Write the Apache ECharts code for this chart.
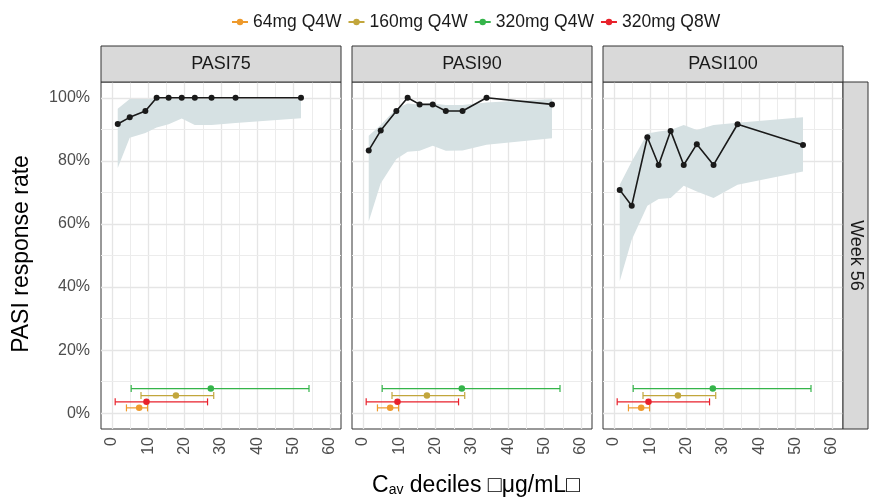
<!DOCTYPE html>
<html>
<head>
<meta charset="utf-8">
<script src="https://cdn.jsdelivr.net/npm/echarts@6/dist/echarts.min.js"></script>
<style>
html,body{margin:0;padding:0;background:#fff;}
#chart{width:869px;height:498px;}
</style>
</head>
<body>
<div id="chart"></div>
<script>
// ---- data ----
const panels = ['PASI75', 'PASI90', 'PASI100'];
const facetRow = 'Week 56';
const caDeciles = [1.6, 4.9, 9.2, 12.3, 15.6, 19.2, 22.8, 27.4, 34.0, 52.0];

const pasi75 = [91.7, 93.8, 95.8, 100, 100, 100, 100, 100, 100, 100];
const pasi75Lo = [77.7, 87.3, 88.8, 90.6, 91.6, 93.4, 91.4, 91.4, 92.0, 93.5];
const pasi75Hi = [96.5, 99.6, 99.6, 99.6, 99.6, 99.6, 99.6, 99.6, 99.6, 99.6];

const pasi90 = [83.3, 89.6, 95.8, 100, 97.9, 97.9, 95.8, 95.8, 100, 97.9];
const pasi90Lo = [60.8, 72.9, 80.6, 82.9, 83.2, 84.8, 83.2, 83.3, 85.1, 87.2];
const pasi90Hi = [88.0, 91.4, 96.6, 98.2, 97.9, 98.2, 97.7, 97.7, 98.5, 99.6];

const pasi100 = [70.8, 65.8, 87.5, 78.7, 89.5, 78.7, 85.3, 78.7, 91.6, 85.0];
const pasi100Lo = [41.8, 55.0, 65.8, 67.9, 68.2, 72.1, 70.3, 68.2, 72.4, 76.6];
const pasi100Hi = [72.4, 79.8, 88.7, 89.3, 89.8, 91.4, 89.8, 91.4, 92.1, 93.8];

const doseGroups = ['64mg Q4W', '160mg Q4W', '320mg Q4W', '320mg Q8W'];
const doseMedian = [7.5, 17.6, 27.2, 9.5];
const doseLow = [4.0, 8.0, 5.3, 0.9];
const doseHigh = [9.8, 28.0, 54.2, 26.3];
const doseRow = [1.7, 5.6, 7.8, 3.6];

const xTicks = [0, 10, 20, 30, 40, 50, 60];
const xMinor = [5, 15, 25, 35, 45, 55];
const yTicks = [0, 20, 40, 60, 80, 100];
const yMinor = [10, 30, 50, 70, 90];

// ---- styling ----
const doseColors = ['#EE9A2C', '#C2A63C', '#35B44A', '#E8212B'];
const bandColor = '#D6E1E3';
const gridMajor = '#E5E5E5';
const gridMinor = '#ECECEC';
const font = 'Liberation Sans, Arial, sans-serif';

const panelVals = [pasi75, pasi90, pasi100];
const panelLo = [pasi75Lo, pasi90Lo, pasi100Lo];
const panelHi = [pasi75Hi, pasi90Hi, pasi100Hi];

const panelLeft = [101, 352, 603];
const panelTop = 82, panelW = 240, panelH = 347;

const grids = [], xAxes = [], yAxes = [], series = [], graphics = [];

panels.forEach((p, i) => {
  grids.push({left: panelLeft[i], top: panelTop, width: panelW, height: panelH,
    show: true, backgroundColor: '#fff', borderColor: '#333333', borderWidth: 1, containLabel: false});
  xAxes.push({type: 'value', gridIndex: i, min: -3, max: 63,
    axisLine: {show: false},
    splitLine: {show: false},
    axisTick: {show: true, customValues: xTicks, length: 4, lineStyle: {color: '#333333', width: 1}},
    axisLabel: {show: true, customValues: xTicks, rotate: 90, margin: 8,
      fontSize: 16, color: '#4D4D4D', fontFamily: font}
  });
  yAxes.push({type: 'value', gridIndex: i, min: -5, max: 105,
    axisLine: {show: false},
    splitLine: {show: false},
    axisTick: {show: i === 0, customValues: yTicks, length: 4, lineStyle: {color: '#333333', width: 1}},
    axisLabel: {show: i === 0, customValues: yTicks, margin: 11,
      formatter: v => v + '%', fontSize: 16, color: '#4D4D4D', fontFamily: font}
  });

  const gridLines = [];
  xTicks.forEach(v => gridLines.push({xAxis: v, lineStyle: {type: 'solid', width: 1.3, color: gridMajor}}));
  xMinor.forEach(v => gridLines.push({xAxis: v, lineStyle: {type: 'solid', width: 1, color: gridMinor}}));
  yTicks.forEach(v => gridLines.push({yAxis: v, lineStyle: {type: 'solid', width: 1.3, color: gridMajor}}));
  yMinor.forEach(v => gridLines.push({yAxis: v, lineStyle: {type: 'solid', width: 1, color: gridMinor}}));

  // prediction band (polygon through the axis scales), carries the grid lines
  series.push({type: 'custom', xAxisIndex: i, yAxisIndex: i, z: 2, silent: true,
    data: caDeciles.map((x, k) => [x, panelLo[i][k], panelHi[i][k]]),
    encode: {x: 0, y: [1, 2]},
    renderItem: (params, api) => {
      if (params.dataIndex !== 0) return null;
      const pts = [];
      caDeciles.forEach((x, k) => pts.push(api.coord([x, panelHi[i][k]])));
      for (let k = caDeciles.length - 1; k >= 0; k--) pts.push(api.coord([caDeciles[k], panelLo[i][k]]));
      return {type: 'polygon', shape: {points: pts}, style: {fill: bandColor, stroke: null}};
    },
    markLine: {silent: true, symbol: 'none', label: {show: false}, animation: false, z: 1, data: gridLines},
    animation: false});
  // observed response
  series.push({type: 'line', xAxisIndex: i, yAxisIndex: i, z: 4,
    data: caDeciles.map((x, k) => [x, panelVals[i][k]]),
    symbol: 'circle', symbolSize: 6, itemStyle: {color: '#1A1A1A'},
    lineStyle: {color: '#1A1A1A', width: 1.6}, animation: false});
  // exposure range whiskers
  series.push({type: 'custom', xAxisIndex: i, yAxisIndex: i, z: 5, silent: true,
    data: doseGroups.map((g, k) => [doseLow[k], doseHigh[k], doseRow[k], k]),
    encode: {x: [0, 1], y: 2},
    renderItem: (params, api) => {
      const a = api.coord([api.value(0), api.value(2)]);
      const b = api.coord([api.value(1), api.value(2)]);
      const c = doseColors[api.value(3)];
      const st = {stroke: c, lineWidth: 1.2};
      return {type: 'group', children: [
        {type: 'line', shape: {x1: a[0], y1: a[1], x2: b[0], y2: b[1]}, style: st},
        {type: 'line', shape: {x1: a[0], y1: a[1] - 3.5, x2: a[0], y2: a[1] + 3.5}, style: st},
        {type: 'line', shape: {x1: b[0], y1: b[1] - 3.5, x2: b[0], y2: b[1] + 3.5}, style: st}
      ]};
    }, animation: false});
  // dose group medians
  doseGroups.forEach((g, k) => {
    series.push({type: 'line', name: g, xAxisIndex: i, yAxisIndex: i, z: 6,
      data: [[doseMedian[k], doseRow[k]]],
      symbol: 'circle', symbolSize: 6.5, itemStyle: {color: doseColors[k]},
      lineStyle: {color: doseColors[k], width: 1.5}, animation: false});
  });

  // strip
  graphics.push({type: 'rect', shape: {x: panelLeft[i], y: 46, width: panelW, height: 36},
    style: {fill: '#D9D9D9', stroke: '#333333', lineWidth: 1}, z: 10});
  graphics.push({type: 'text', x: panelLeft[i] + panelW / 2, y: 64, z: 11,
    style: {text: p, fontSize: 18, fontFamily: font, fill: '#1A1A1A', align: 'center', verticalAlign: 'middle'}});
});

// right strip
graphics.push({type: 'rect', shape: {x: 843, y: panelTop, width: 25, height: panelH},
  style: {fill: '#D9D9D9', stroke: '#333333', lineWidth: 1}, z: 10});
graphics.push({type: 'text', x: 856, y: panelTop + panelH / 2, rotation: -Math.PI / 2, z: 11,
  style: {text: facetRow, fontSize: 18, fontFamily: font, fill: '#1A1A1A', align: 'center', verticalAlign: 'middle'}});

// axis titles
graphics.push({type: 'text', x: 22, y: 254, rotation: Math.PI / 2, z: 11,
  style: {text: 'PASI response rate', fontSize: 23, fontFamily: font, fill: '#000', align: 'center', verticalAlign: 'middle'}});
graphics.push({type: 'text', x: 476, y: 484, z: 11,
  style: {text: '{c|C}{s|av}{c| deciles \u25A1\u03BCg/mL\u25A1}', align: 'center', verticalAlign: 'middle',
    rich: {
      c: {fontSize: 23, fontFamily: font, fill: '#000', lineHeight: 26, verticalAlign: 'bottom'},
      s: {fontSize: 14, fontFamily: font, fill: '#000', lineHeight: 18, verticalAlign: 'bottom'}
    }}});

const chart = echarts.init(document.getElementById('chart'), null, {renderer: 'canvas'});
chart.setOption({
  animation: false,
  backgroundColor: '#fff',
  legend: {data: doseGroups, top: 8, left: 226, selectedMode: false,
    itemWidth: 16, itemHeight: 8, itemGap: 6,
    textStyle: {fontSize: 17.5, fontFamily: font, color: '#1A1A1A'}},
  grid: grids, xAxis: xAxes, yAxis: yAxes, series: series, graphic: graphics
});
</script>
</body>
</html>
